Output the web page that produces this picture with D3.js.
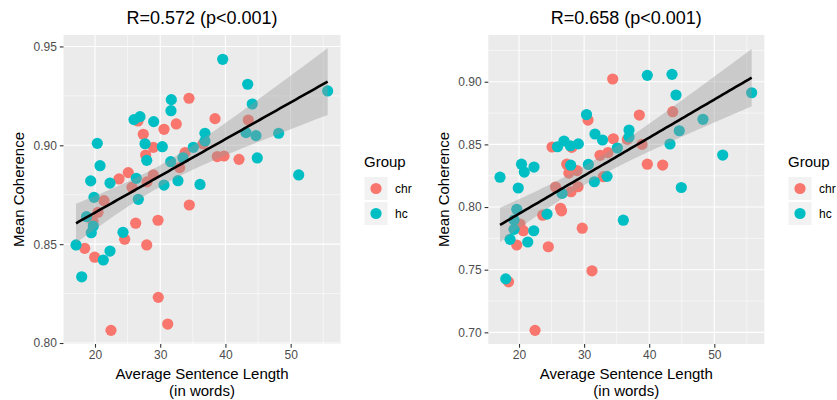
<!DOCTYPE html>
<html>
<head>
<meta charset="utf-8">
<script src="https://cdn.jsdelivr.net/npm/d3@7"></script>
<style>
  body { margin: 0; background: #fff; }
  svg { display: block; font-family: "Liberation Sans", Arial, Helvetica, sans-serif; }
</style>
</head>
<body>
<svg id="chart" width="837" height="400"></svg>
<script>
// Groups and their colours
const groups = ["chr", "hc"];
const groupColors = ["#F8766D", "#00BFC4"];

// Shared x ticks (average sentence length, in words)
const xTicks = [20, 30, 40, 50];
const xMinorTicks = [15, 25, 35, 45, 55];

// Left panel: mean coherence vs. average sentence length
const leftTitle = "R=0.572 (p<0.001)";
const leftYTicks = [0.80, 0.85, 0.90, 0.95];
const leftYMinor = [0.825, 0.875, 0.925, 0.975];
const leftX = [39.58,43.41,55.67,31.70,34.41,44.11,31.65,38.40,43.50,26.90,25.98,26.59,29.00,32.46,30.58,27.40,36.86,43.15,44.68,48.16,36.86,36.56,20.35,27.67,28.94,30.32,35.07,27.77,27.93,33.80,33.49,31.61,32.98,38.75,39.78,42.08,44.88,20.77,25.10,23.68,26.33,28.94,27.97,19.34,22.30,30.58,32.72,36.10,51.23,25.67,19.85,21.38,26.64,20.46,18.70,19.69,19.74,19.43,24.29,24.55,26.24,29.66,34.46,17.09,18.42,19.95,21.27,22.30,27.93,17.96,29.70,31.15,22.45];
const leftY = [0.9435,0.9309,0.9275,0.9231,0.9238,0.9209,0.9175,0.9135,0.9128,0.9145,0.9130,0.9123,0.9120,0.9108,0.9081,0.9056,0.9061,0.9064,0.9049,0.9061,0.9022,0.9007,0.9010,0.9008,0.8990,0.8993,0.8990,0.8951,0.8924,0.8963,0.8937,0.8917,0.8887,0.8943,0.8946,0.8929,0.8936,0.8897,0.8862,0.8830,0.8833,0.8850,0.8815,0.8820,0.8809,0.8799,0.8821,0.8802,0.8850,0.8788,0.8737,0.8720,0.8727,0.8661,0.8639,0.8615,0.8592,0.8558,0.8560,0.8525,0.8606,0.8621,0.8698,0.8496,0.8479,0.8434,0.8420,0.8465,0.8496,0.8335,0.8231,0.8096,0.8064];
const leftGroup = ["hc","hc","hc","hc","chr","hc","hc","chr","chr","hc","hc","chr","hc","chr","chr","chr","hc","hc","hc","hc","hc","chr","hc","hc","chr","hc","hc","chr","hc","chr","hc","hc","chr","chr","chr","chr","hc","hc","chr","chr","hc","chr","chr","hc","hc","hc","hc","hc","hc","chr","hc","chr","hc","chr","hc","chr","hc","hc","hc","chr","chr","chr","chr","hc","chr","chr","hc","hc","chr","hc","chr","chr","chr"];

// Right panel
const rightTitle = "R=0.658 (p<0.001)";
const rightYTicks = [0.70, 0.75, 0.80, 0.85, 0.90];
const rightYMinor = [0.675, 0.725, 0.775, 0.825, 0.875, 0.925];
const rightX = [34.39,39.71,43.50,44.12,55.74,38.48,43.61,48.26,44.62,30.37,30.60,31.67,32.83,34.49,36.90,36.90,36.64,38.89,43.19,25.07,25.91,26.91,27.88,28.10,29.11,35.10,32.44,33.67,39.71,42.07,51.29,20.38,20.81,22.30,17.08,19.88,27.33,27.94,27.65,28.91,30.65,31.57,32.95,33.52,25.61,26.61,27.99,29.06,44.93,19.65,26.37,26.53,24.30,23.64,19.23,20.15,19.23,20.66,22.26,18.62,19.65,21.34,24.50,29.71,36.02,31.21,17.96,18.39,22.46];
const rightY = [0.9022,0.9051,0.9059,0.8894,0.8912,0.8734,0.8761,0.8700,0.8609,0.8738,0.8694,0.8583,0.8535,0.8545,0.8615,0.8559,0.8540,0.8500,0.8503,0.8479,0.8481,0.8527,0.8489,0.8476,0.8504,0.8471,0.8413,0.8435,0.8342,0.8335,0.8415,0.8342,0.8279,0.8319,0.8238,0.8152,0.8342,0.8334,0.8271,0.8291,0.8340,0.8202,0.8242,0.8245,0.8160,0.8109,0.8122,0.8162,0.8156,0.7982,0.7990,0.7970,0.7944,0.7935,0.7896,0.7864,0.7822,0.7811,0.7811,0.7742,0.7697,0.7721,0.7683,0.7831,0.7895,0.7491,0.7427,0.7403,0.7016];
const rightGroup = ["chr","hc","hc","hc","hc","chr","chr","hc","hc","hc","chr","hc","hc","chr","hc","hc","chr","chr","hc","chr","hc","hc","hc","chr","hc","hc","chr","chr","chr","chr","hc","hc","hc","hc","hc","hc","chr","hc","chr","chr","hc","hc","chr","hc","chr","hc","chr","chr","hc","hc","chr","chr","hc","chr","hc","chr","hc","chr","hc","hc","chr","hc","chr","chr","hc","chr","hc","chr","chr"];

const xLabelLines = ["Average Sentence Length", "(in words)"];
const yLabel = "Mean Coherence";
const legendTitle = "Group";

// Student t quantile (0.975) for the 95% band of the linear fit
const tCrit = 1.995;

const svg = d3.select("#chart");
svg.append("rect").attr("width", 837).attr("height", 400).attr("fill", "#fff");

const color = d3.scaleOrdinal().domain(groups).range(groupColors);

function linearFit(xs, ys) {
  const n = xs.length;
  const mx = d3.mean(xs), my = d3.mean(ys);
  let sxx = 0, sxy = 0;
  xs.forEach((x, i) => { sxx += (x - mx) ** 2; sxy += (x - mx) * (ys[i] - my); });
  const b = sxy / sxx, a = my - b * mx;
  let sse = 0;
  xs.forEach((x, i) => { sse += (ys[i] - a - b * x) ** 2; });
  const s = Math.sqrt(sse / (n - 2));
  const [lo, hi] = d3.extent(xs);
  const grid = d3.range(80).map(i => lo + (hi - lo) * i / 79);
  return grid.map(x => {
    const fit = a + b * x;
    const se = s * Math.sqrt(1 / n + (x - mx) ** 2 / sxx);
    return { x, fit, lo: fit - tCrit * se, hi: fit + tCrit * se };
  });
}

function drawPanel(cfg) {
  const g = svg.append("g");
  const x = d3.scaleLinear().domain(cfg.xDomain).range([cfg.left, cfg.right]);
  const y = d3.scaleLinear().domain(cfg.yDomain).range([cfg.bottom, cfg.top]);
  const clipId = "clip-" + cfg.id;

  svg.append("defs").append("clipPath").attr("id", clipId)
    .append("rect").attr("x", cfg.left).attr("y", cfg.top)
    .attr("width", cfg.right - cfg.left).attr("height", cfg.bottom - cfg.top);

  g.append("rect")
    .attr("x", cfg.left).attr("y", cfg.top)
    .attr("width", cfg.right - cfg.left).attr("height", cfg.bottom - cfg.top)
    .attr("fill", "#EBEBEB");

  const grid = g.append("g").attr("clip-path", `url(#${clipId})`);
  // minor grid
  grid.selectAll(".vminor").data(xMinorTicks).join("line")
    .attr("x1", d => x(d)).attr("x2", d => x(d))
    .attr("y1", cfg.top).attr("y2", cfg.bottom)
    .attr("stroke", "#fff").attr("stroke-width", 0.55);
  grid.selectAll(".hminor").data(cfg.yMinor).join("line")
    .attr("x1", cfg.left).attr("x2", cfg.right)
    .attr("y1", d => y(d)).attr("y2", d => y(d))
    .attr("stroke", "#fff").attr("stroke-width", 0.55);
  // major grid
  grid.selectAll(".vmajor").data(xTicks).join("line")
    .attr("x1", d => x(d)).attr("x2", d => x(d))
    .attr("y1", cfg.top).attr("y2", cfg.bottom)
    .attr("stroke", "#fff").attr("stroke-width", 1.1);
  grid.selectAll(".hmajor").data(cfg.yTicks).join("line")
    .attr("x1", cfg.left).attr("x2", cfg.right)
    .attr("y1", d => y(d)).attr("y2", d => y(d))
    .attr("stroke", "#fff").attr("stroke-width", 1.1);

  // points: chr first, hc on top
  const pts = cfg.xs.map((v, i) => ({ x: v, y: cfg.ys[i], g: cfg.gs[i] }));
  const ordered = groups.flatMap(k => pts.filter(p => p.g === k));
  const layer = g.append("g").attr("clip-path", `url(#${clipId})`);
  layer.selectAll("circle").data(ordered).join("circle")
    .attr("cx", d => x(d.x)).attr("cy", d => y(d.y)).attr("r", 5.6)
    .attr("fill", d => color(d.g));

  // linear fit with 95% band
  const fit = linearFit(cfg.xs, cfg.ys);
  layer.append("path").datum(fit)
    .attr("d", d3.area().x(d => x(d.x)).y0(d => y(d.lo)).y1(d => y(d.hi)))
    .attr("fill", "#999999").attr("fill-opacity", 0.4);
  layer.append("path").datum(fit)
    .attr("d", d3.line().x(d => x(d.x)).y(d => y(d.fit)))
    .attr("fill", "none").attr("stroke", "#000").attr("stroke-width", 2.6);

  // axes
  const xAxis = g.append("g").attr("transform", `translate(0,${cfg.bottom})`)
    .call(d3.axisBottom(x).tickValues(xTicks).tickSize(3.7).tickPadding(3));
  const yAxis = g.append("g").attr("transform", `translate(${cfg.left},0)`)
    .call(d3.axisLeft(y).tickValues(cfg.yTicks).tickFormat(d3.format(".2f")).tickSize(3.7).tickPadding(3));
  [xAxis, yAxis].forEach(ax => {
    ax.select(".domain").remove();
    ax.selectAll(".tick line").attr("stroke", "#333333").attr("stroke-width", 1.1);
    ax.selectAll(".tick text").attr("fill", "#4D4D4D").attr("font-size", 12)
      .attr("font-family", "'Liberation Sans', Arial, sans-serif");
  });

  // titles
  const cx = (cfg.left + cfg.right) / 2;
  g.append("text").attr("x", cx).attr("y", 24).attr("text-anchor", "middle")
    .attr("font-size", 18).attr("fill", "#000").text(cfg.title);
  g.append("text").attr("x", cx).attr("y", 379).attr("text-anchor", "middle")
    .attr("font-size", 15).attr("fill", "#000").text(xLabelLines[0]);
  g.append("text").attr("x", cx).attr("y", 396).attr("text-anchor", "middle")
    .attr("font-size", 15).attr("fill", "#000").text(xLabelLines[1]);
  const cy = (cfg.top + cfg.bottom) / 2;
  g.append("text").attr("transform", `translate(${cfg.yTitleX},${cy}) rotate(-90)`)
    .attr("text-anchor", "middle").attr("font-size", 15).attr("fill", "#000").text(yLabel);

  // legend
  const lg = g.append("g").attr("transform", `translate(${cfg.legendX},0)`);
  lg.append("text").attr("x", 0).attr("y", 166.5).attr("font-size", 15).attr("fill", "#000").text(legendTitle);
  groups.forEach((k, i) => {
    const top = 177 + i * 25;
    lg.append("rect").attr("x", 0.5).attr("y", top).attr("width", 23).attr("height", 23).attr("fill", "#F2F2F2");
    lg.append("circle").attr("cx", 12).attr("cy", top + 11.5).attr("r", 5.6).attr("fill", color(k));
    lg.append("text").attr("x", 31).attr("y", top + 16).attr("font-size", 12).attr("fill", "#000").text(k);
  });
}

drawPanel({
  id: "left", left: 63.5, right: 340.5, top: 35, bottom: 344,
  xDomain: [15.17, 57.64], yDomain: [0.7995, 0.9558],
  yTicks: leftYTicks, yMinor: leftYMinor,
  xs: leftX, ys: leftY, gs: leftGroup, title: leftTitle,
  yTitleX: 24, legendX: 364
});

drawPanel({
  id: "right", left: 488.3, right: 764.3, top: 35, bottom: 344,
  xDomain: [15.28, 57.68], yDomain: [0.6907, 0.9373],
  yTicks: rightYTicks, yMinor: rightYMinor,
  xs: rightX, ys: rightY, gs: rightGroup, title: rightTitle,
  yTitleX: 449, legendX: 788
});
</script>
</body>
</html>
